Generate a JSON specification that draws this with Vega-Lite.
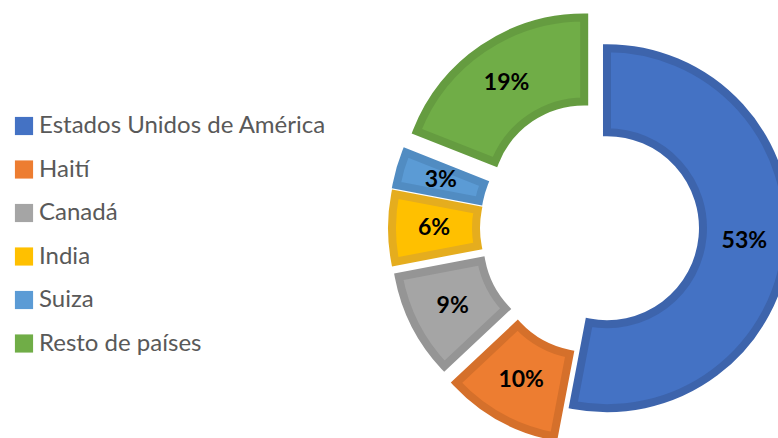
{
  "$schema": "https://vega.github.io/schema/vega-lite/v6.json",
  "width": 778,
  "height": 438,
  "padding": 0,
  "autosize": {"type": "none"},
  "background": "white",
  "config": {"view": {"stroke": null}, "font": "Lato"},
  "data": {
    "values": [
      {"pais": "Estados Unidos de América", "porcentaje": 0.53, "orden": 1},
      {"pais": "Haití", "porcentaje": 0.10, "orden": 2},
      {"pais": "Canadá", "porcentaje": 0.09, "orden": 3},
      {"pais": "India", "porcentaje": 0.06, "orden": 4},
      {"pais": "Suiza", "porcentaje": 0.03, "orden": 5},
      {"pais": "Resto de países", "porcentaje": 0.19, "orden": 6}
    ]
  },
  "encoding": {
    "theta": {"field": "porcentaje", "type": "quantitative", "stack": true},
    "order": {"field": "orden", "type": "quantitative"}
  },
  "layer": [
    {
      "mark": {
        "type": "arc",
        "innerRadius": 96,
        "outerRadius": 180,
        "strokeWidth": 8,
        "strokeJoin": "miter",
        "x": {"expr": "605 + (datum.pais == 'Estados Unidos de América' ? 2 : datum.pais == 'Haití' ? 36 : datum.pais == 'Resto de países' ? 37 : 33) * sin(PI * (datum.porcentaje_start + datum.porcentaje_end))"},
        "y": {"expr": "228 - (datum.pais == 'Estados Unidos de América' ? 2 : datum.pais == 'Haití' ? 36 : datum.pais == 'Resto de países' ? 37 : 33) * cos(PI * (datum.porcentaje_start + datum.porcentaje_end))"}
      },
      "encoding": {
        "color": {
          "field": "pais",
          "type": "nominal",
          "scale": {
            "domain": ["Estados Unidos de América", "Haití", "Canadá", "India", "Suiza", "Resto de países"],
            "range": ["#4472C4", "#ED7D31", "#A5A5A5", "#FFC000", "#5B9BD5", "#70AD47"]
          },
          "legend": {
            "orient": "none",
            "legendX": 12,
            "legendY": 114,
            "title": null,
            "padding": 0,
            "symbolType": "square",
            "symbolSize": 330,
            "symbolStrokeWidth": 0,
            "labelFont": "Lato",
            "labelFontSize": 24,
            "labelColor": "#595959",
            "labelOffset": 3,
            "labelLimit": 400,
            "rowPadding": 19.5
          }
        },
        "stroke": {
          "field": "pais",
          "type": "nominal",
          "scale": {
            "domain": ["Estados Unidos de América", "Haití", "Canadá", "India", "Suiza", "Resto de países"],
            "range": ["#3D64AC", "#D5702B", "#959595", "#E5AD1E", "#518CC2", "#659C40"]
          },
          "legend": null
        }
      }
    },
    {
      "mark": {
        "type": "text",
        "radius": 138,
        "font": "Lato",
        "fontWeight": "bold",
        "fontSize": 23,
        "fill": "black",
        "x": {"expr": "605 + (datum.pais == 'Estados Unidos de América' ? 2 : datum.pais == 'Haití' ? 36 : datum.pais == 'Resto de países' ? 37 : 33) * sin(PI * (datum.porcentaje_start + datum.porcentaje_end))"},
        "y": {"expr": "228 - (datum.pais == 'Estados Unidos de América' ? 2 : datum.pais == 'Haití' ? 36 : datum.pais == 'Resto de países' ? 37 : 33) * cos(PI * (datum.porcentaje_start + datum.porcentaje_end))"}
      },
      "encoding": {
        "text": {"field": "porcentaje", "type": "quantitative", "format": ".0%"}
      }
    }
  ]
}
